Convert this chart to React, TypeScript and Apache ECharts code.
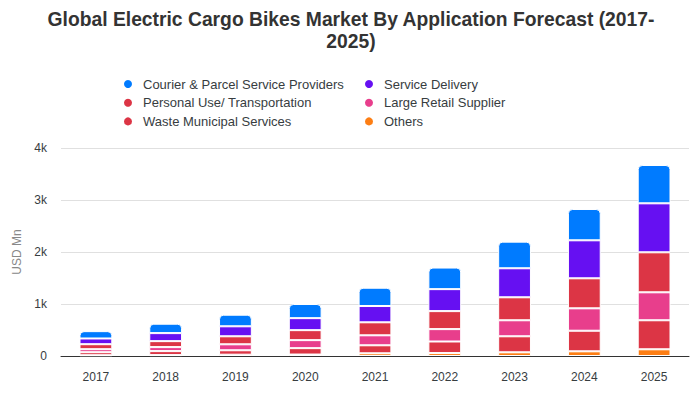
import React, { useEffect, useRef } from "react";
import * as echarts from "echarts";

const years = ["2017", "2018", "2019", "2020", "2021", "2022", "2023", "2024", "2025"];
const others = [15, 17, 25, 28, 52, 56, 71, 90, 129];
const waste = [58, 77, 85, 123, 154, 223, 308, 396, 558];
const largeRetail = [58, 77, 115, 154, 192, 238, 308, 431, 538];
const personalUse = [96, 115, 154, 192, 250, 346, 442, 577, 769];
const serviceDelivery = [110, 154, 192, 231, 313, 423, 558, 731, 942];
const courier = [141, 181, 223, 272, 352, 415, 512, 602, 737];

const names = {
  courier: "Courier & Parcel Service Providers",
  service: "Service Delivery",
  personal: "Personal Use/ Transportation",
  retail: "Large Retail Supplier",
  waste: "Waste Municipal Services",
  others: "Others",
};

const FONT = "'Liberation Sans', Arial, Helvetica, sans-serif";

export default function App() {
  const ref = useRef<HTMLDivElement>(null);
  useEffect(() => {
    if (!ref.current) return;
    const chart = echarts.init(ref.current, undefined, { renderer: "svg" });
    const mk = (name: string, data: number[], color: string, top = false) => ({
      name,
      type: "bar",
      stack: "total",
      data,
      barWidth: "47%",
      itemStyle: {
        color,
        borderColor: "#ffffff",
        borderWidth: 1,
        borderRadius: top ? [4, 4, 0, 0] : 0,
      },
      emphasis: { disabled: true },
    });
    const legendCommon = {
      orient: "vertical",
      top: 77,
      padding: 0,
      icon: "circle",
      itemWidth: 10,
      itemHeight: 10,
      itemGap: 4.7,
      textStyle: { fontSize: 13, color: "#373d3f", fontFamily: FONT, lineHeight: 14, padding: [0, 0, 0, 5] },
    };
    chart.setOption({
      animation: false,
      textStyle: { fontFamily: FONT },
      title: {
        text: "Global Electric Cargo Bikes Market By Application Forecast (2017-\n2025)",
        left: 346,
        top: 3,
        textAlign: "center",
        textStyle: { fontSize: 19.3, fontWeight: "bold", color: "#333333", lineHeight: 22, fontFamily: FONT, align: "center" },
      },
      legend: [
        { ...legendCommon, left: 122, data: [names.courier, names.personal, names.waste] },
        { ...legendCommon, left: 363, data: [names.service, names.retail, names.others] },
      ],
      grid: { left: 61, right: 11, top: 148, bottom: 44 },
      xAxis: {
        type: "category",
        data: years,
        axisLine: { lineStyle: { color: "#333333", width: 1 } },
        axisTick: { show: false },
        axisLabel: { color: "#373d3f", fontSize: 12, margin: 15, fontFamily: FONT },
      },
      yAxis: {
        type: "value",
        min: 0,
        max: 4000,
        interval: 1000,
        name: "USD Mn",
        nameLocation: "middle",
        nameGap: 33,
        nameTextStyle: { color: "#888888", fontSize: 12, fontFamily: FONT },
        axisLabel: {
          color: "#373d3f",
          fontSize: 12,
          margin: 14,
          fontFamily: FONT,
          formatter: (v: number) => (v === 0 ? "0" : v / 1000 + "k"),
        },
        splitLine: { lineStyle: { color: "#e0e0e0" } },
        axisLine: { show: false },
      },
      series: [
        mk(names.others, others, "#fd7e14"),
        mk(names.waste, waste, "#dc3545"),
        mk(names.retail, largeRetail, "#e83e8c"),
        mk(names.personal, personalUse, "#dc3545"),
        mk(names.service, serviceDelivery, "#6610f2"),
        mk(names.courier, courier, "#007bff", true),
      ],
    });
    return () => chart.dispose();
  }, []);
  return <div ref={ref} style={{ width: 700, height: 400, margin: -8 }} />;
}
